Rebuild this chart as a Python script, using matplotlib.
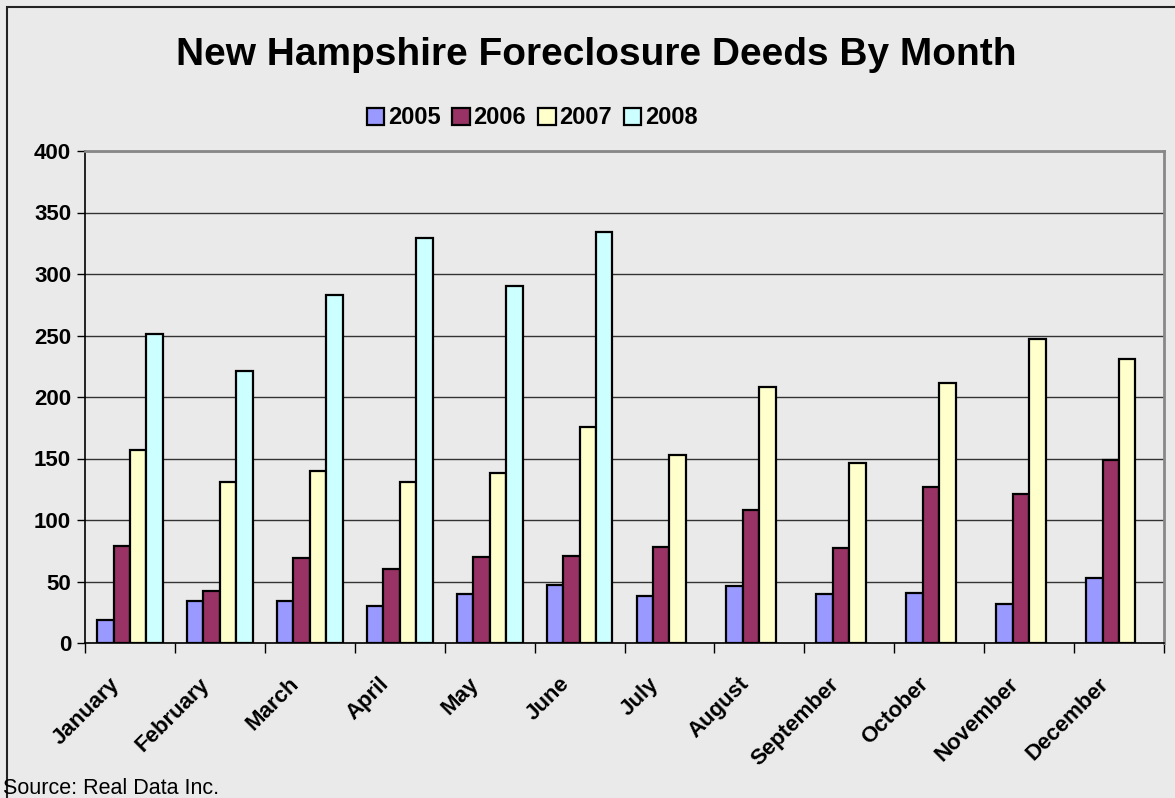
import numpy as np
import matplotlib
matplotlib.use("Agg")
import matplotlib.pyplot as plt
from matplotlib.patches import Rectangle
from matplotlib.transforms import ScaledTranslation

plt.rcParams['font.family'] = ['Liberation Sans', 'DejaVu Sans']

months = ["January", "February", "March", "April", "May", "June",
          "July", "August", "September", "October", "November", "December"]
years = ["2005", "2006", "2007", "2008"]
deeds_2005 = [19, 34, 34, 30, 40, 47, 38, 46, 40, 41, 32, 53]
deeds_2006 = [79, 42, 69, 60, 70, 71, 78, 108, 77, 127, 121, 149]
deeds_2007 = [157, 131, 140, 131, 138, 176, 153, 208, 146, 211, 247, 231]
deeds_2008 = [251, 221, 283, 329, 290, 334, np.nan, np.nan, np.nan, np.nan, np.nan, np.nan]
colors = ["#9999FF", "#993366", "#FFFFCC", "#CCFFFF"]

bg = "#EAEAEA"
fig = plt.figure(figsize=(11.75, 7.98), dpi=100, facecolor=bg)
# chart area border (left/top visible, right/bottom cut off)
fig.patches.append(Rectangle((7 / 1175, -0.1), 1.2, (798 - 7) / 798 + 0.1,
                             transform=fig.transFigure, fill=False,
                             edgecolor="#222222", linewidth=1.5))

ax = fig.add_axes([85 / 1175, 1 - 643 / 798, (1164 - 85) / 1175, (643 - 151) / 798])
ax.set_facecolor(bg)

x = np.arange(len(months))
w = 0.183
series = [deeds_2005, deeds_2006, deeds_2007, deeds_2008]
for i, (yr, vals) in enumerate(zip(years, series)):
    ax.bar(x + (i - 1.5) * w, vals, width=w, color=colors[i], edgecolor="black",
           linewidth=1.6, label=yr, zorder=3)

ax.set_xlim(-0.5, 11.5)
ax.set_ylim(0, 400)
ax.set_yticks(np.arange(0, 401, 50))
ax.yaxis.grid(True, color="#333333", linewidth=1)
ax.set_axisbelow(True)
for lbl in ax.get_yticklabels():
    lbl.set_fontweight("bold")
ax.tick_params(axis="y", labelsize=16, length=6, width=1, pad=4)

ax.set_xticks(x)
ax.set_xticklabels(months, rotation=45, ha="right", rotation_mode="anchor",
                   fontsize=16, fontweight="bold")
ax.tick_params(axis="x", length=0, pad=22)
shift = ScaledTranslation(-21 / 100, 0, fig.dpi_scale_trans)
for lbl in ax.get_xticklabels():
    lbl.set_transform(lbl.get_transform() + shift)
ax.set_xticks(np.arange(-0.5, 12, 1), minor=True)
ax.tick_params(axis="x", which="minor", length=7, width=1)

for s in ["left", "bottom"]:
    ax.spines[s].set_color("black")
    ax.spines[s].set_linewidth(1.2)
for s in ["top", "right"]:
    ax.spines[s].set_color("#888888")
    ax.spines[s].set_linewidth(2)

fig.text(596 / 1175, 1 - 55 / 798, "New Hampshire Foreclosure Deeds By Month",
         ha="center", va="center", fontsize=28, fontweight="bold")

leg = fig.legend(loc="center", bbox_to_anchor=(532 / 1175, 1 - 118 / 798), ncol=4,
                 frameon=False, prop={"weight": "bold", "size": 17},
                 handlelength=0.75, handleheight=0.75, handletextpad=0.15,
                 columnspacing=0.5)

fig.text(3 / 1175, 1 - 788 / 798, "Source: Real Data Inc.", ha="left", va="center",
         fontsize=15.5)

fig.savefig("out.png", dpi=100, facecolor=bg)
